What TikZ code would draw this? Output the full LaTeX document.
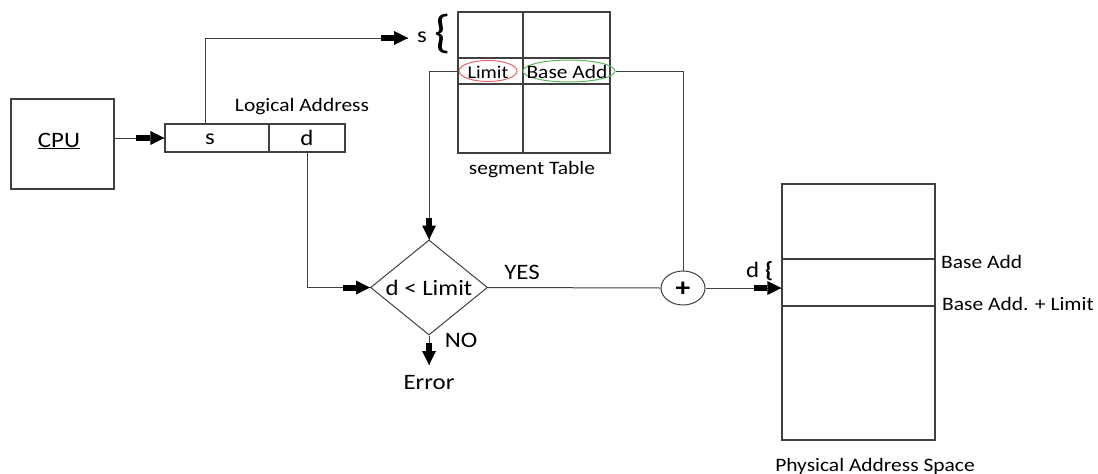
\documentclass[tikz,border=0pt]{standalone}
\usepackage{fontspec}
\setmainfont[FakeStretch=1.13]{Carlito}
\usetikzlibrary{shapes.geometric,arrows.meta}
\definecolor{linegray}{HTML}{404040}
\definecolor{ellred}{HTML}{E06868}
\definecolor{ellgreen}{HTML}{5CB85C}
\tikzset{
  boxnode/.style={draw=linegray, line width=1.2pt, inner sep=0pt},
  conn/.style={draw=linegray, line width=1pt},
  bighead/.style={draw=black, line width=6pt, -{Triangle[length=14pt,width=14pt,line width=0pt]}},
  bigtxt/.style={font=\fontsize{22}{26}\selectfont, inner sep=0pt},
  smalltxt/.style={font=\fontsize{19}{22}\selectfont, inner sep=0pt},
}
\begin{document}
\begin{tikzpicture}[x=1pt,y=-1pt]
\useasboundingbox (0,0) rectangle (1098,474);

% CPU
\node[boxnode, minimum width=103pt, minimum height=90pt] (cpu) at (62.5,144) {};
\node[bigtxt] (cputxt) at (59,141) {\underline{CPU}};

% Logical address
\node[boxnode, minimum width=104pt, minimum height=28pt] (las) at (217,138) {};
\node[boxnode, minimum width=76pt, minimum height=28pt] (lad) at (307,138) {};
\node[bigtxt] (stxt) at (210,139) {s};
\node[bigtxt] (dtxt) at (307,138) {d};
\node[smalltxt] (latxt) at (302,107) {Logical Address};

% Segment table
\node[boxnode, minimum width=152pt, minimum height=141pt] (seg) at (534,82.5) {};
\draw[linegray, line width=1.2pt] (523,12) -- (523,153);
\draw[linegray, line width=1.2pt] (458,58) -- (610,58);
\draw[linegray, line width=1.2pt] (458,84) -- (610,84);
\node[draw=ellred, ellipse, line width=1pt, minimum width=58pt, minimum height=21pt, inner sep=0pt] (limit) at (488,71) {};
\node[font=\fontsize{18}{20}\selectfont, inner sep=0pt] at (488,72) {Limit};
\node[draw=ellgreen, ellipse, line width=1pt, minimum width=92pt, minimum height=22pt, inner sep=0pt] (base) at (569,71) {};
\node[font=\fontsize{19}{20}\selectfont, inner sep=0pt] at (567,72) {Base Add};
\node[smalltxt] (segtxt) at (532,170) {segment Table};
\node[bigtxt] (sl) at (422,37) {s};
\node[font=\fontsize{46}{50}\selectfont, inner sep=0pt] (brace) at (443,34) {\{};

% Diamond
\node[draw=linegray, line width=1pt, diamond, minimum width=117pt, minimum height=95pt, inner sep=0pt] (dia) at (429,287.5) {};
\node[bigtxt] (diatxt) at (429,288) {d < Limit};
\node[bigtxt] (yes) at (522,272) {YES};
\node[bigtxt] (no) at (461,340) {NO};
\node[bigtxt] (err) at (429,383) {Error};

% Plus
\node[draw=linegray, line width=1pt, ellipse, minimum width=44pt, minimum height=34pt, inner sep=0pt] (plus) at (683,288) {};
\node[font=\fontsize{26}{28}\selectfont\bfseries, inner sep=0pt] at (683,289) {+};

% Physical address space
\node[boxnode, minimum width=153pt, minimum height=256pt] (phys) at (858.5,312) {};
\draw[linegray, line width=1.2pt] (782,259) -- (935,259);
\draw[linegray, line width=1.2pt] (782,306) -- (935,306);
\node[smalltxt, anchor=west] (ba) at (941,262) {Base Add};
\node[smalltxt, anchor=west] (bal) at (942,304) {Base Add. + Limit};
\node[smalltxt] (phystxt) at (875,466) {Physical Address Space};
\node[bigtxt, anchor=west] (dbr) at (746,271) {d \textbf{\{}};

% Connectors
\draw[conn] (cpu.east |- las.west) -- (las.west);
\draw[bighead] ([xshift=-28pt]las.west) -- (las.west);

\coordinate (sup) at ([xshift=-12pt]las.north);
\coordinate (send) at (408,38);
\draw[conn] (sup) |- (send);
\draw[bighead] ([xshift=-27pt]send) -- (send);

\draw[conn] (lad.south) |- (dia.west);
\draw[bighead] ([xshift=-27pt]dia.west) -- (dia.west);

\draw[conn] (limit.west) -| (dia.north);
\draw[bighead] ([yshift=22pt]dia.north) -- (dia.north);

\draw[conn] (base.east) -| (plus.north);
\draw[conn] (dia.east) -- (plus.west);

\coordinate (pin) at (plus.east -| phys.west);
\draw[conn] (plus.east) -- (pin);
\draw[bighead] ([xshift=-27pt]pin) -- (pin);

\coordinate (errtop) at (429,365);
\draw[conn] (dia.south) -- (errtop);
\draw[bighead] ([yshift=22pt]errtop) -- (errtop);
\end{tikzpicture}
\end{document}
